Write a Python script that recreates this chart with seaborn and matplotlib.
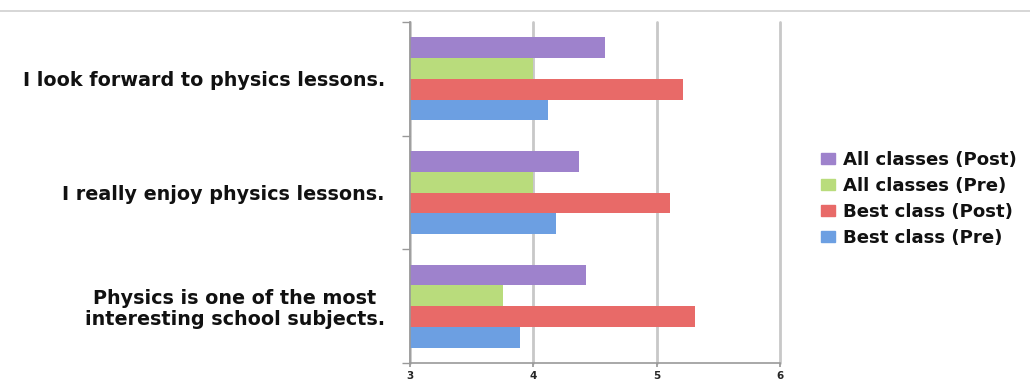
import matplotlib
matplotlib.use("Agg")
import matplotlib.pyplot as plt
import seaborn as sns
import pandas as pd
from matplotlib.lines import Line2D

categories = ["I look forward to physics lessons.",
              "I really enjoy physics lessons.",
              "Physics is one of the most\ninteresting school subjects."]
series = ["All classes (Post)", "All classes (Pre)", "Best class (Post)", "Best class (Pre)"]
all_post = [4.58, 4.37, 4.43]
all_pre = [4.00, 4.00, 3.75]
best_post = [5.21, 5.11, 5.31]
best_pre = [4.12, 4.18, 3.89]
colors = ["#9E82CC", "#B9DC7C", "#E86A68", "#6C9FE2"]
x_ticks = [3, 4, 5, 6]

rows = []
for s, vals in zip(series, [all_post, all_pre, best_post, best_pre]):
    for c, v in zip(categories, vals):
        rows.append({"cat": c, "series": s, "value": v})
df = pd.DataFrame(rows)

sns.set_theme(style="white")
plt.rcParams['font.family'] = ['DejaVu Sans']

fig = plt.figure(figsize=(10.30, 3.83), dpi=100)
ax = fig.add_axes([410/1030, 1-363/383, 370/1030, 341/383])

sns.barplot(data=df, x="value", y="cat", hue="series", hue_order=series,
            order=categories, palette=colors, orient="h", width=0.73,
            ax=ax, legend=False, saturation=1, edgecolor="none")

# bars start at 3
for p in ax.patches:
    w = p.get_width()
    p.set_x(3)
    p.set_width(w - 3)

ax.set_xlim(3, 6)
ax.set_ylim(2.5, -0.5)
ax.set_xticks(x_ticks)
ax.set_xticklabels([str(t) for t in x_ticks], fontsize=7.5, fontweight="bold")
ax.set_yticks(range(len(categories)))
ax.set_yticklabels(categories, fontsize=13.8, fontweight="bold", ha="right",
                   multialignment="center", color="#111111", linespacing=1.12)
ax.tick_params(axis="y", length=0, pad=18)
ax.set_yticks([-0.5, 0.5, 1.5, 2.5], minor=True)
ax.tick_params(axis="y", which="minor", length=6, color="#999999", width=1, left=True)
ax.tick_params(axis="x", length=3, color="#999999", bottom=True, pad=3)
ax.xaxis.grid(True, color="#c8c8c8", linewidth=2)
for gl in ax.get_xgridlines():
    gl.set_clip_on(False)
ax.yaxis.grid(False)
ax.set_axisbelow(True)
ax.set_xlabel("")
ax.set_ylabel("")
for side in ["top", "right"]:
    ax.spines[side].set_visible(False)
for side in ["left", "bottom"]:
    ax.spines[side].set_color("#999999")
    ax.spines[side].set_linewidth(1.2)

# separator line at top
fig.add_artist(Line2D([0, 1], [1-11/383, 1-11/383], color="#d0d0d0", linewidth=1.2))

handles = [plt.Rectangle((0, 0), 1, 1, color=c) for c in colors]
leg = fig.legend(handles, series, loc="center left", bbox_to_anchor=(805/1030, 1-199/383),
                 frameon=False, prop={"weight": "bold", "size": 13.1},
                 labelcolor="#111111",
                 handlelength=0.75, handleheight=0.5, handletextpad=0.45, labelspacing=0.44)

fig.savefig("out.png", dpi=100)
